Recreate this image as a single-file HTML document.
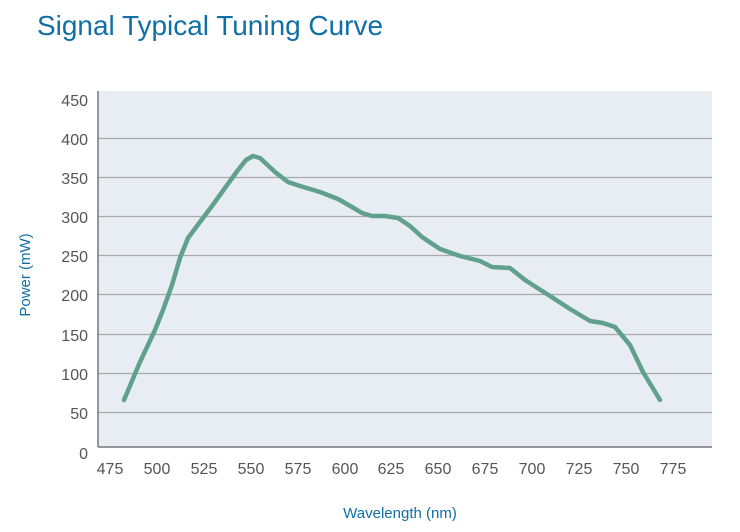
<!DOCTYPE html>
<html><head><style>body{margin:0;background:#fff}svg{display:block}</style></head><body>
<svg width="740" height="532" xmlns="http://www.w3.org/2000/svg" font-family="Liberation Sans, sans-serif">
<text x="37" y="35" font-size="28" fill="#0f6fa6" textLength="346" lengthAdjust="spacingAndGlyphs">Signal Typical Tuning Curve</text>
<rect x="98" y="91" width="614" height="356" fill="#e8edf4"/>
<g stroke="#a9a9ad" stroke-width="1.3">
<line x1="98" x2="712" y1="138.5" y2="138.5"/><line x1="98" x2="712" y1="177.5" y2="177.5"/>
<line x1="98" x2="712" y1="216.5" y2="216.5"/><line x1="98" x2="712" y1="255.5" y2="255.5"/>
<line x1="98" x2="712" y1="294.5" y2="294.5"/><line x1="98" x2="712" y1="334.5" y2="334.5"/>
<line x1="98" x2="712" y1="373.5" y2="373.5"/><line x1="98" x2="712" y1="412.5" y2="412.5"/>
</g>
<line x1="98" x2="712" y1="447" y2="447" stroke="#777" stroke-width="1.5"/>
<line x1="98" x2="98" y1="91" y2="447" stroke="#777" stroke-width="1.5"/>
<g font-size="16" fill="#555" text-anchor="end">
<text x="88" y="106">450</text><text x="88" y="145">400</text><text x="88" y="184">350</text>
<text x="88" y="223">300</text><text x="88" y="262">250</text><text x="88" y="301">200</text>
<text x="88" y="341">150</text><text x="88" y="380">100</text><text x="88" y="419">50</text>
<text x="88" y="459">0</text>
</g>
<g font-size="16" fill="#555" text-anchor="middle">
<text x="110" y="474">475</text><text x="157" y="474">500</text><text x="204" y="474">525</text>
<text x="251" y="474">550</text><text x="298" y="474">575</text><text x="345" y="474">600</text>
<text x="391" y="474">625</text><text x="438" y="474">650</text><text x="485" y="474">675</text>
<text x="532" y="474">700</text><text x="579" y="474">725</text><text x="626" y="474">750</text>
<text x="673" y="474">775</text>
</g>
<text x="400" y="518" font-size="15" fill="#0f6fa6" text-anchor="middle">Wavelength (nm)</text>
<text transform="translate(30,275) rotate(-90)" font-size="15" fill="#0f6fa6" text-anchor="middle">Power (mW)</text>
<path d="M124,400 L140,362 L155,330 L163,310 L172,285 L180,258 L188,238 L200,222 L212,206 L225,188 L238,170 L246,160 L253,156 L260,158 L275,172 L288,182 L300,186 L320,192 L338,199 L352,207 L362,213 L372,216 L385,216 L398,218 L410,226 L422,237 L440,249 L460,256 L480,261 L492,267 L510,268 L525,280 L550,296 L570,309 L590,321 L603,323 L615,327 L630,345 L643,372 L660,400" fill="none" stroke="#61a08d" stroke-width="4.5" stroke-linecap="round" stroke-linejoin="round"/>
</svg>
</body></html>
